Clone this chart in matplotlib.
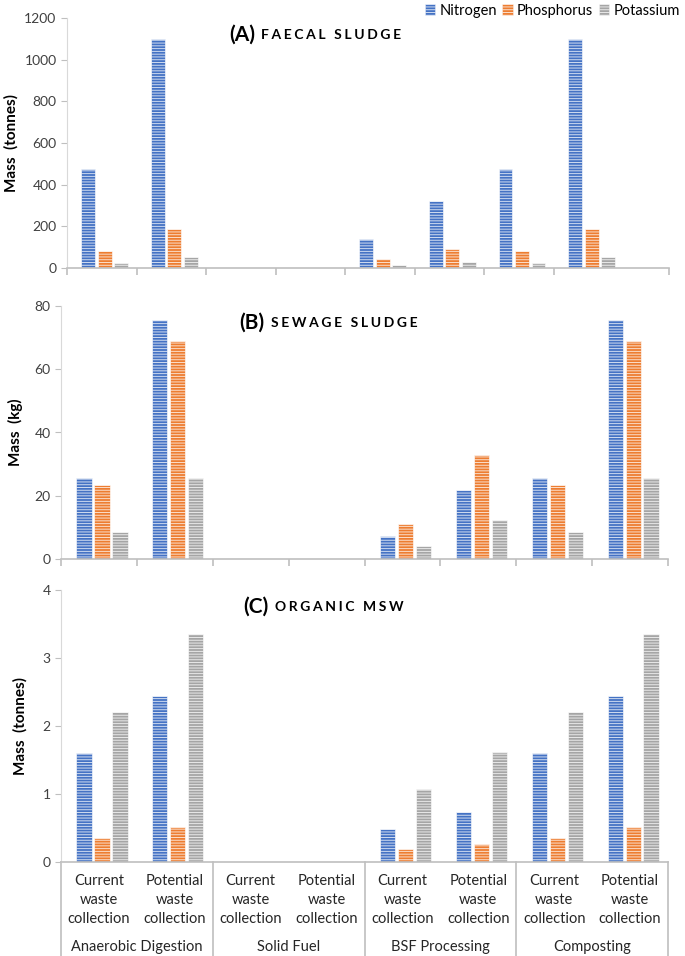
import numpy as np
import matplotlib
matplotlib.use("Agg")
import matplotlib.pyplot as plt
from matplotlib.patches import Patch
import matplotlib.transforms as mtransforms

plt.rcParams['font.family'] = ['Lato', 'DejaVu Sans']
plt.rcParams['hatch.linewidth'] = 0.7

# data ------------------------------------------------------------
methods = ['Anaerobic Digestion', 'Solid Fuel', 'BSF Processing', 'Composting']
scenarios = ['Current\nwaste\ncollection', 'Potential\nwaste\ncollection']
nutrients = ['Nitrogen', 'Phosphorus', 'Potassium']
colors = ['#4472C4', '#ED7D31', '#A5A5A5']

# order: AD cur, AD pot, SF cur, SF pot, BSF cur, BSF pot, Comp cur, Comp pot
faecal_N = [475, 1100, 0, 0, 139, 320, 475, 1100]
faecal_P = [82, 185, 0, 0, 43, 91, 82, 185]
faecal_K = [24, 54, 0, 0, 14, 27, 24, 54]

sewage_N = [25.7, 75.6, 0, 0, 7.4, 21.8, 25.6, 75.6]
sewage_P = [23.4, 68.9, 0, 0, 11.2, 33.0, 23.3, 68.9]
sewage_K = [8.6, 25.5, 0, 0, 4.1, 12.2, 8.6, 25.5]

msw_N = [1.60, 2.44, 0, 0, 0.49, 0.74, 1.60, 2.44]
msw_P = [0.36, 0.52, 0, 0, 0.19, 0.26, 0.36, 0.52]
msw_K = [2.20, 3.36, 0, 0, 1.07, 1.62, 2.20, 3.36]

W, H = 685, 956
fig = plt.figure(figsize=(W / 100, H / 100), dpi=100)


def rect(l, t, r, b):
    return [l / W, 1 - b / H, (r - l) / W, (b - t) / H]


def draw_panel(ax, N, P, K, ymax, ystep, ylabel, xmax):
    x = np.arange(len(N))
    bw = 0.2
    off = 0.237
    for i, (vals, c) in enumerate(zip([N, P, K], colors)):
        ax.bar(x + 0.5 + 0.04 + (i - 1) * off, vals, width=bw, color=c,
               edgecolor=(1, 1, 1, 0.75), linewidth=0.6, hatch='------')
    ax.set_xlim(0, xmax)
    ax.set_ylim(0, ymax)
    ax.set_yticks(np.arange(0, ymax + ystep / 2, ystep))
    ticks = list(range(0, 8)) + [xmax]
    ax.set_xticks(ticks)
    ax.set_xticklabels([])
    for s in ['top', 'right']:
        ax.spines[s].set_visible(False)
    ax.spines['left'].set_color('#D9D9D9')
    ax.spines['bottom'].set_color('#BFBFBF')
    ax.spines['bottom'].set_linewidth(1.2)
    ax.tick_params(axis='y', colors='#BFBFBF', labelcolor='#404040',
                   labelsize=10, length=4)
    ax.tick_params(axis='x', colors='#BFBFBF', length=5, width=1.2)
    ax.set_ylabel(ylabel, fontsize=11, fontweight='bold', color='black')


def title(tag, name, x_tag_right, x_name, y):
    fig.text(x_tag_right / W, 1 - y / H, tag, fontsize=15, fontweight='bold',
             ha='right', va='center')
    spaced = '  \u2009'.join('\u2009\u200a'.join(w) for w in name.split(' '))
    fig.text(x_name / W, 1 - y / H, spaced, fontsize=10, fontweight='bold',
             ha='left', va='center')


axA = fig.add_axes(rect(67, 18, 669, 268))
draw_panel(axA, faecal_N, faecal_P, faecal_K, 1200, 200, 'Mass  (tonnes)',
           (669 - 67) / ((554 - 67) / 7))
axB = fig.add_axes(rect(61, 306, 668, 559))
draw_panel(axB, sewage_N, sewage_P, sewage_K, 80, 20, 'Mass  (kg)', 8)
axC = fig.add_axes(rect(61, 590, 668, 862))
draw_panel(axC, msw_N, msw_P, msw_K, 4, 1, 'Mass  (tonnes)', 8)
axC.set_xticks([0, 2, 4, 6, 8])
axC.tick_params(axis='x', length=0)

axA.yaxis.set_label_coords(-0.080, 0.5)
axB.yaxis.set_label_coords(-0.063, 0.5)
axC.yaxis.set_label_coords(-0.055, 0.5)

title('(A)', 'FAECAL SLUDGE', 255, 261, 35)
title('(B)', 'SEWAGE SLUDGE', 264, 271, 323)
title('(C)', 'ORGANIC MSW', 268, 275, 607)

# grouped category axis under panel C
tr = mtransforms.blended_transform_factory(axC.transData, axC.transAxes)
hC = 862 - 590
for k in range(8):
    axC.text(k + 0.5, -(900 - 862) / hC, scenarios[k % 2], transform=tr,
             ha='center', va='center', fontsize=10.5, color='#262626',
             linespacing=1.45)
for g, m in enumerate(methods):
    axC.text(2 * g + 1, -(947 - 862) / hC, m, transform=tr, ha='center',
             va='center', fontsize=10.5, color='#262626')
for g in range(5):
    axC.plot([2 * g, 2 * g], [0, -(956 - 862) / hC], transform=tr,
             color='#BFBFBF', lw=1.2, clip_on=False)

handles = [Patch(facecolor=c, edgecolor=(1, 1, 1, 0.75), hatch='------', lw=0.4)
           for c in colors]
fig.legend(handles, nutrients, loc='upper right', bbox_to_anchor=(1.012, 1.01),
           ncol=3, frameon=False, fontsize=10.5, handlelength=0.7,
           handleheight=0.7, handletextpad=0.3, columnspacing=0.4)

fig.savefig('out.png', dpi=100)
